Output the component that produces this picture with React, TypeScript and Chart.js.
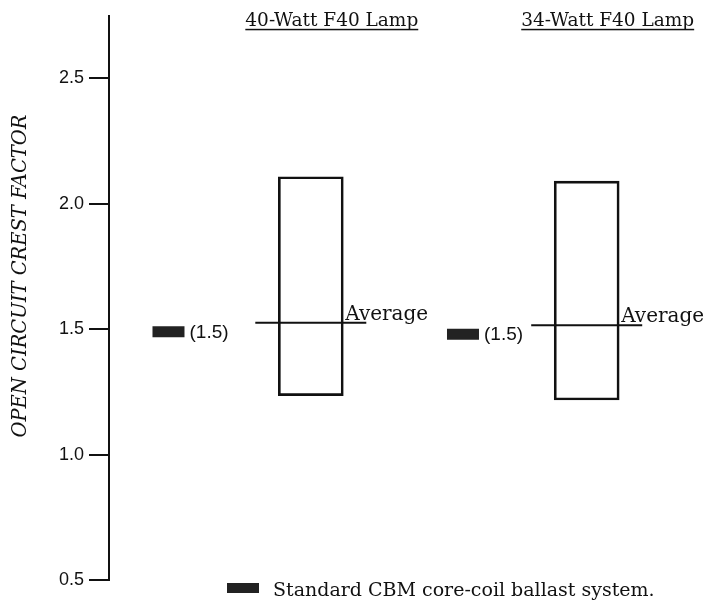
import { useEffect, useRef } from 'react';
import { Chart, registerables } from 'chart.js';

Chart.register(...registerables);

// ---- data ----
const lamps = ['40-Watt F40 Lamp', '34-Watt F40 Lamp'];
const rangeLow = [1.235, 1.218];
const rangeHigh = [2.108, 2.091];
const averages = [1.526, 1.516];
const standardValues = [1.49, 1.48];
const standardLabels = ['(1.5)', '(1.5)'];
const yTicks = [0.5, 1.0, 1.5, 2.0, 2.5];
const yAxisTitle = 'OPEN CIRCUIT CREST FACTOR';
const averageLabel = 'Average';
const legendLabel = 'Standard CBM core-coil ballast system.';

const INK = '#111';
const MARK = '#222';
const SERIF = '"DejaVu Serif", serif';
const SANS = '"Liberation Sans", Arial, sans-serif';

const annotate = {
  id: 'annotate',
  afterDatasetsDraw(chart: any) {
    const ctx = chart.ctx as CanvasRenderingContext2D;
    const y = chart.scales.y;
    const xm = chart.scales.xm;
    const area = chart.chartArea;
    const boxMeta = chart.getDatasetMeta(0);
    ctx.save();
    ctx.fillStyle = INK;

    // lamp titles (underlined)
    ctx.font = `18.5px ${SERIF}`;
    ctx.textAlign = 'center';
    ctx.textBaseline = 'alphabetic';
    lamps.forEach((name, i) => {
      const bar = boxMeta.data[i];
      const cx = bar.x + 21;
      const ty = area.top + 10;
      ctx.fillText(name, cx, ty);
      const w = ctx.measureText(name).width;
      ctx.fillRect(cx - w / 2, ty + 3, w, 1.5);
    });

    // "Average" labels
    ctx.font = `20px ${SERIF}`;
    ctx.textAlign = 'left';
    lamps.forEach((_, i) => {
      const bar = boxMeta.data[i];
      ctx.fillText(averageLabel, bar.x + bar.width / 2 + 2, y.getPixelForValue(averages[i]) - 3);
    });

    // "(1.5)" labels beside standard markers
    ctx.font = `19px ${SANS}`;
    ctx.textBaseline = 'middle';
    standardValues.forEach((v, i) => {
      ctx.fillText(standardLabels[i], xm.getPixelForValue(i) + 21, y.getPixelForValue(v) + 1);
    });

    // legend
    const lx = area.left + 118;
    const ly = area.bottom + 3;
    ctx.fillStyle = MARK;
    ctx.fillRect(lx, ly, 32, 10);
    ctx.fillStyle = INK;
    ctx.font = `19px ${SERIF}`;
    ctx.textBaseline = 'alphabetic';
    ctx.fillText(legendLabel, lx + 46, ly + 13);

    // y-axis title
    ctx.translate(21, 276);
    ctx.rotate(-Math.PI / 2);
    ctx.font = `italic 19.5px ${SERIF}`;
    ctx.textAlign = 'center';
    ctx.textBaseline = 'middle';
    ctx.fillText(yAxisTitle, 0, 0);
    ctx.restore();
  },
};

export default function App() {
  const ref = useRef<HTMLCanvasElement | null>(null);

  useEffect(() => {
    if (!ref.current) return;
    const chart = new Chart(ref.current, {
      type: 'bar',
      data: {
        datasets: [
          {
            type: 'bar',
            label: 'Range',
            xAxisID: 'xb',
            yAxisID: 'y',
            data: lamps.map((_, i) => ({ x: i, y: [rangeLow[i], rangeHigh[i]] })) as any,
            backgroundColor: 'rgba(0,0,0,0)',
            borderColor: INK,
            borderWidth: 2,
            borderSkipped: false,
            grouped: false,
            barThickness: 65,
            maxBarThickness: 65,
          },
          {
            type: 'line',
            label: 'Average',
            xAxisID: 'xb',
            yAxisID: 'y',
            data: lamps.map((_, i) => ({ x: i, y: averages[i] })) as any,
            showLine: false,
            pointStyle: 'line',
            pointRadius: 55.5,
            pointHoverRadius: 55.5,
            pointBorderWidth: 2,
            pointBorderColor: INK,
          },
          {
            type: 'line',
            label: legendLabel,
            xAxisID: 'xm',
            yAxisID: 'y',
            data: lamps.map((_, i) => ({ x: i, y: standardValues[i] })) as any,
            showLine: false,
            pointStyle: 'line',
            pointRadius: 16,
            pointHoverRadius: 16,
            pointBorderWidth: 11,
            pointBorderColor: MARK,
          },
        ],
      },
      options: {
        responsive: false,
        animation: false,
        events: [],
        layout: { autoPadding: false, padding: { left: 0, right: 8, top: 14.5, bottom: 25 } },
        plugins: { legend: { display: false }, tooltip: { enabled: false } },
        scales: {
          xb: { type: 'linear', display: false, offset: false, min: -0.7314, max: 1.4034 },
          xm: { type: 'linear', display: false, offset: false, min: -0.202, max: 1.798 },
          y: {
            type: 'linear',
            position: 'left',
            min: 0.5,
            max: 2.75,
            afterBuildTicks: (s: any) => {
              s.ticks = yTicks.map((v) => ({ value: v }));
            },
            afterFit: (s: any) => {
              s.width = 109;
            },
            border: { display: true, color: INK, width: 2 },
            grid: { drawOnChartArea: false, drawTicks: true, tickLength: 20, color: INK, lineWidth: 2 },
            ticks: {
              color: INK,
              padding: 5,
              font: { family: 'Liberation Sans', size: 18 },
              callback: (v: any) => Number(v).toFixed(1),
            },
          },
        },
      } as any,
      plugins: [annotate],
    });
    return () => chart.destroy();
  }, []);

  return (
    <div style={{ position: 'fixed', left: 0, top: 0, width: 706, height: 605, background: '#fff' }}>
      <canvas ref={ref} width={706} height={605} style={{ display: 'block' }} />
    </div>
  );
}
